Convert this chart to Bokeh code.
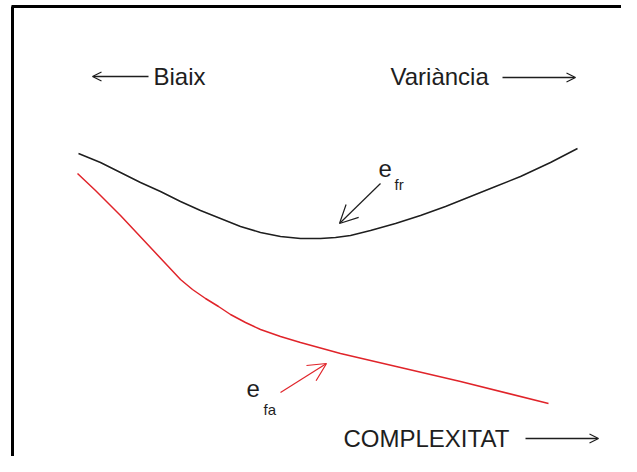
from bokeh.plotting import figure
from bokeh.models import Range1d, Arrow, OpenHead, Label
from bokeh.embed import file_html
from bokeh.resources import INLINE

# Schematic data (x = complexity, y = error)
black_x = [78, 100, 120, 140, 160, 180, 200, 220, 240, 260, 280, 300, 320, 335, 350, 370, 395, 420, 445, 470, 495, 520, 550, 577]
black_y = [319, 310, 300, 290, 281, 271, 262, 254, 246, 240, 236, 234, 234, 235, 237, 242, 249, 257, 266, 276, 286, 296, 310, 324]

red_x = [77, 95, 120, 150, 165, 180, 192, 205, 218, 230, 245, 260, 280, 300, 340, 400, 460, 548]
red_y = [299, 282, 257, 225, 209, 193, 183, 174, 166, 158, 150, 143, 136, 130, 119, 105, 91, 69]

labels = ["Biaix", "Variància", "COMPLEXITAT"]
label_x = [153, 390, 343]
label_y = [396, 396, 34]

# direction arrows (start x, start y, end x, end y)
dir_arrows = [(148, 396, 92, 396), (502, 395, 575, 395), (525, 34, 598, 34)]

FONT = "Liberation Sans"
INK = "#1e1e1e"
RED = "#e0242a"

p = figure(width=621, height=456, output_backend="svg", toolbar_location=None,
           x_range=Range1d(0, 621), y_range=Range1d(16, 472), min_border=0)
p.axis.visible = False
p.grid.visible = False
p.outline_line_color = None
p.background_fill_color = "white"
p.border_fill_color = "white"

# frame (left and top edges)
p.line([12, 12], [16, 466], line_color="black", line_width=3)
p.line([11, 621], [466, 466], line_color="black", line_width=3)

p.line(black_x, black_y, line_color=INK, line_width=1.5)
p.line(red_x, red_y, line_color=RED, line_width=1.5)

for t, x, y in zip(labels, label_x, label_y):
    p.add_layout(Label(x=x, y=y, text=t, text_font=FONT, text_font_size="24px",
                       text_color=INK, text_baseline="alphabetic"))

for xs, ys, xe, ye in dir_arrows:
    p.add_layout(Arrow(end=OpenHead(size=9, line_color=INK, line_width=1.2),
                       x_start=xs, y_start=ys, x_end=xe, y_end=ye,
                       line_color=INK, line_width=1.5))

# e_fr pointer
p.add_layout(Arrow(end=OpenHead(size=18, line_color=INK, line_width=1.2),
                   x_start=380, y_start=289, x_end=339, y_end=249,
                   line_color=INK, line_width=1.2))
p.add_layout(Label(x=378, y=304, text="e", text_font=FONT, text_font_size="24px",
                   text_color=INK, text_baseline="alphabetic"))
p.add_layout(Label(x=394, y=288, text="fr", text_font=FONT, text_font_size="15px",
                   text_color=INK, text_baseline="alphabetic"))

# e_fa pointer
p.add_layout(Arrow(end=OpenHead(size=18, line_color=RED, line_width=1.2),
                   x_start=280, y_start=80, x_end=326, y_end=109,
                   line_color=RED, line_width=1.2))
p.add_layout(Label(x=246, y=84, text="e", text_font=FONT, text_font_size="24px",
                   text_color=INK, text_baseline="alphabetic"))
p.add_layout(Label(x=263, y=63, text="fa", text_font=FONT, text_font_size="15px",
                   text_color=INK, text_baseline="alphabetic"))

open("out.html", "w").write(file_html(p, INLINE))
